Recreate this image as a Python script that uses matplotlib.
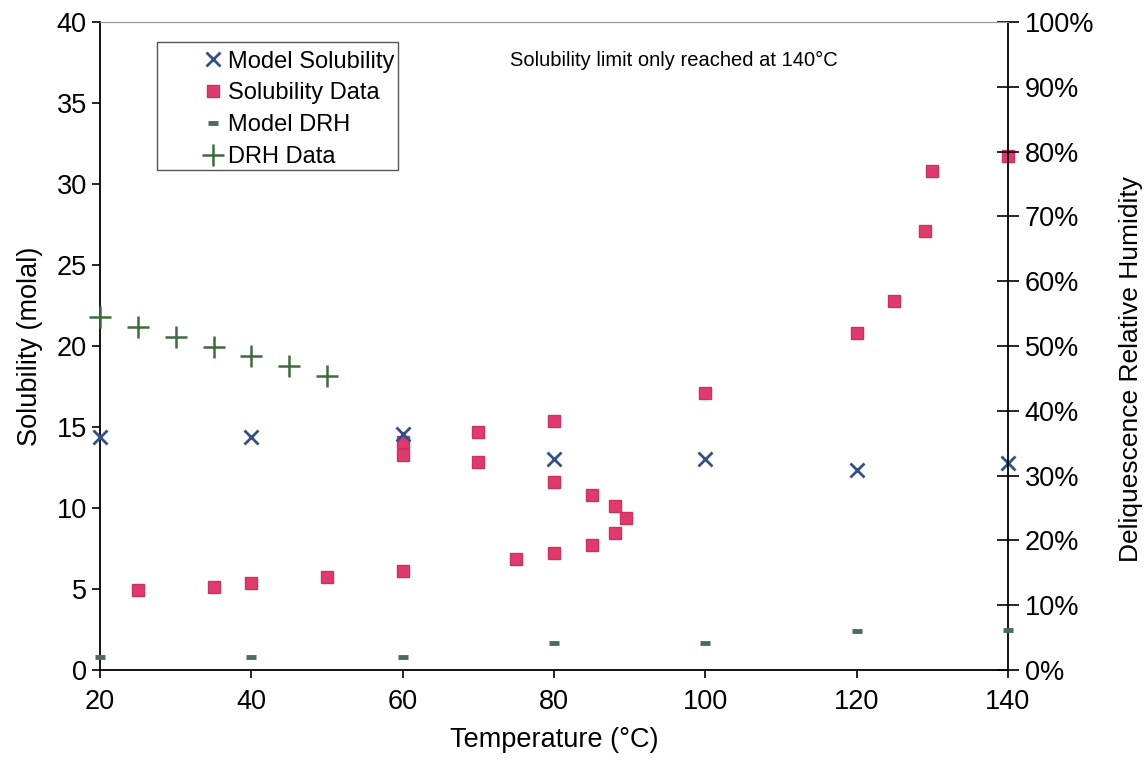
import matplotlib
matplotlib.use("Agg")
import matplotlib.pyplot as plt
from matplotlib.patches import Rectangle
from matplotlib.ticker import FuncFormatter

plt.rcParams['font.family'] = ['Liberation Sans', 'DejaVu Sans']

# model solubility (molal)
model_sol_t = [20, 40, 60, 80, 100, 120, 140]
model_sol = [14.4, 14.4, 14.6, 13.0, 13.0, 12.35, 12.8]

# measured solubility (molal)
sol_data_t = [25, 35, 40, 50, 60, 60, 60, 70, 70, 75, 80, 80, 80, 85, 85,
              88, 88, 89.5, 100, 120, 125, 129, 130, 140]
sol_data = [4.93, 5.1, 5.35, 5.72, 6.1, 13.3, 14.1, 14.7, 12.85, 6.85, 7.2,
            11.6, 15.4, 7.7, 10.8, 8.45, 10.1, 9.4, 17.1, 20.8, 22.8, 27.1,
            30.8, 31.7]

# model DRH (%)
model_drh_t = [20, 40, 60, 80, 100, 120, 140]
model_drh = [2.0, 2.0, 2.0, 4.1, 4.1, 6.0, 6.2]

# measured DRH (%)
drh_data_t = [20, 25, 30, 35, 40, 45, 50]
drh_data = [54.5, 53.0, 51.4, 49.8, 48.4, 46.9, 45.3]

fig = plt.figure(figsize=(11.47, 7.73), dpi=100)
ax = fig.add_axes([0.0872, 0.1332, 0.7916, 0.8383])
ax2 = ax.twinx()

ax.set_xlim(20, 140)
ax.set_ylim(0, 40)
ax2.set_ylim(0, 100)

h1, = ax.plot(model_sol_t, model_sol, ls='none', marker='x', ms=10, mew=2.0,
              color='#34508a', clip_on=False, zorder=5)
h2, = ax.plot(sol_data_t, sol_data, ls='none', marker='s', ms=9,
              color='#e03a6c', mec='#d0305f', clip_on=False, zorder=4)
h3, = ax2.plot(model_drh_t, model_drh, ls='none', marker='_', ms=7, mew=3.5,
               color='#4d6b5c', clip_on=False, zorder=5)
h4, = ax2.plot(drh_data_t, drh_data, ls='none', marker='+', ms=16, mew=1.8,
               color='#3f6b3f', clip_on=False, zorder=5)

ax.set_xticks(range(20, 141, 20))
ax.set_yticks(range(0, 41, 5))
ax2.set_yticks(range(0, 101, 10))
ax2.yaxis.set_major_formatter(FuncFormatter(lambda v, p: '%d%%' % v))

ax.tick_params(axis='both', labelsize=19.5, direction='out', length=6,
               width=1.2, colors='black')
ax.tick_params(axis='x', pad=8)
ax2.tick_params(axis='y', labelsize=19.5, direction='inout', length=16,
                width=1.2, pad=4)

for s in ['left', 'bottom']:
    ax.spines[s].set_linewidth(1.3)
ax2.spines['right'].set_linewidth(1.3)
ax.spines['top'].set_color('#999999')
ax2.spines['top'].set_color('#999999')
ax.spines['right'].set_visible(False)
ax2.spines['left'].set_visible(False)
ax2.spines['bottom'].set_visible(False)

ax.set_xlabel('Temperature (°C)', fontsize=19.5, labelpad=8)
ax.set_ylabel('Solubility (molal)', fontsize=19.5, labelpad=10)
ax2.set_ylabel('Deliquescence Relative Humidity', fontsize=19)
ax2.yaxis.set_label_coords(1.122, 0.465)

ax.text(74.2, 37.65, 'Solubility limit only reached at 140°C', fontsize=14.5,
        va='center', ha='left')

ax.add_patch(Rectangle((0.0628, 0.772), 0.265, 0.1975, transform=ax.transAxes,
                       fill=False, ec='#555555', lw=1.0, zorder=6,
                       clip_on=False))
leg = ax2.legend([h1, h2, h3, h4],
                 ['Model Solubility', 'Solubility Data', 'Model DRH', 'DRH Data'],
                 loc='upper left', bbox_to_anchor=(0.114, 0.956),
                 frameon=False, fontsize=17, numpoints=1, handlelength=0.8,
                 handletextpad=0.25, labelspacing=0.42, borderpad=0,
                 borderaxespad=0)

fig.savefig('out.png', dpi=100)
